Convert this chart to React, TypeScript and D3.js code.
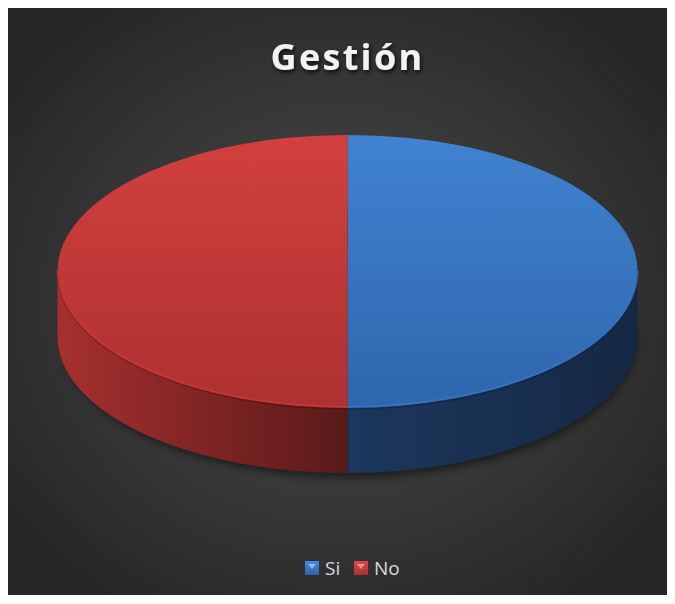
import React from "react";
import * as d3 from "d3";

const categories = ["Si", "No"];
const values = [50, 50];
const topColors = [
  ["#4183d1", "#2f66ad"],
  ["#d2403f", "#ad3130"],
];
const sideColors = [
  ["#1c375d", "#152843"],
  ["#a6302f", "#5a1a1a"],
];
const legendColors = ["#3a78c8", "#c83a3a"];
const title = "Gestión";

const W = 675;
const H = 604;

export default function App() {
  const box = { x: 8, y: 8, w: 659, h: 587 };
  const cx = 347.5;
  const cy = 271;
  const rx = 290;
  const ry = 136;
  const depth = 66;

  const pie = d3.pie<number>().sort(null).startAngle(0).endAngle(2 * Math.PI);
  const arcs = pie(values);

  const px = (a: number) => cx + rx * Math.sin(a);
  const py = (a: number) => cy - ry * Math.cos(a);

  const topPath = (a0: number, a1: number) => {
    const large = a1 - a0 > Math.PI ? 1 : 0;
    return `M${cx},${cy} L${px(a0)},${py(a0)} A${rx},${ry} 0 ${large} 1 ${px(a1)},${py(a1)} Z`;
  };
  const rimPath = (a0: number, a1: number) => {
    const large = a1 - a0 > Math.PI ? 1 : 0;
    return `M${px(a0)},${py(a0)} A${rx},${ry} 0 ${large} 1 ${px(a1)},${py(a1)}`;
  };
  const sidePath = (a0: number, a1: number) => {
    const s = Math.max(a0, Math.PI / 2);
    const e = Math.min(a1, (3 * Math.PI) / 2);
    if (e <= s) return null;
    return `M${px(s)},${py(s)} A${rx},${ry} 0 0 1 ${px(e)},${py(e)} L${px(e)},${py(e) + depth} A${rx},${ry} 0 0 0 ${px(s)},${py(s) + depth} Z`;
  };

  const legendX = [305, 354];

  return (
    <svg width={W} height={H} style={{ display: "block", position: "absolute", left: 0, top: 0 }}>
      <defs>
        <radialGradient id="bg" cx="0.5" cy="0.5" r="0.62">
          <stop offset="0" stopColor="#4d4d4d" />
          <stop offset="1" stopColor="#262626" />
        </radialGradient>
        <filter id="tshadow" x="-20%" y="-40%" width="140%" height="180%">
          <feDropShadow dx="1.5" dy="2.5" stdDeviation="2" floodColor="#000" floodOpacity="0.75" />
        </filter>
        <filter id="pshadow" x="-20%" y="-30%" width="140%" height="160%">
          <feGaussianBlur stdDeviation="5" />
        </filter>
        {arcs.map((a, i) => (
          <linearGradient key={"t" + i} id={"top" + i} x1="0" y1="0" x2="0" y2="1">
            <stop offset="0" stopColor={topColors[i][0]} />
            <stop offset="1" stopColor={topColors[i][1]} />
          </linearGradient>
        ))}
        <linearGradient id="side0" gradientUnits="userSpaceOnUse" x1={cx} y1="0" x2={cx + rx} y2="0">
          <stop offset="0" stopColor={sideColors[0][0]} />
          <stop offset="1" stopColor={sideColors[0][1]} />
        </linearGradient>
        <linearGradient id="side1" gradientUnits="userSpaceOnUse" x1={cx - rx} y1="0" x2={cx} y2="0">
          <stop offset="0" stopColor={sideColors[1][0]} />
          <stop offset="1" stopColor={sideColors[1][1]} />
        </linearGradient>
        {legendColors.map((c, i) => (
          <linearGradient key={"l" + i} id={"leg" + i} x1="0" y1="0" x2="0" y2="1">
            <stop offset="0" stopColor={d3.color(c)!.brighter(0.4).toString()} />
            <stop offset="1" stopColor={d3.color(c)!.darker(0.5).toString()} />
          </linearGradient>
        ))}
      </defs>
      <rect x={box.x} y={box.y} width={box.w} height={box.h} fill="url(#bg)" />
      <text
        x={cx}
        y={69.5}
        textAnchor="middle"
        fontFamily="'Open Sans', 'DejaVu Sans', sans-serif"
        fontWeight="bold"
        fontSize={36}
        letterSpacing={2.3}
        fill="#f2f2f2"
        filter="url(#tshadow)"
      >
        {title}
      </text>
      {/* shadow under pie */}
      <ellipse cx={cx + 2} cy={cy + depth + 4} rx={rx - 4} ry={ry} fill="#000" opacity={0.55} filter="url(#pshadow)" />
      {/* sides */}
      {arcs.map((a, i) => {
        const d = sidePath(a.startAngle, a.endAngle);
        return d ? <path key={"s" + i} d={d} fill={`url(#side${i})`} /> : null;
      })}
      {/* top faces */}
      {arcs.map((a, i) => (
        <path key={"p" + i} d={topPath(a.startAngle, a.endAngle)} fill={`url(#top${i})`} />
      ))}
      {/* rim highlight on front edge */}
      {arcs.map((a, i) => {
        const s = Math.max(a.startAngle, Math.PI / 2);
        const e = Math.min(a.endAngle, (3 * Math.PI) / 2);
        if (e <= s) return null;
        return (
          <path
            key={"r" + i}
            d={rimPath(s, e)}
            fill="none"
            stroke={d3.color(topColors[i][1])!.brighter(0.5).toString()}
            strokeWidth={2}
            opacity={0.8}
          />
        );
      })}
      {arcs.map((a, i) => {
        const s = Math.max(a.startAngle, Math.PI / 2);
        const e = Math.min(a.endAngle, (3 * Math.PI) / 2);
        if (e <= s) return null;
        return (
          <path
            key={"rb" + i}
            d={rimPath(s, e)}
            transform="translate(0,2)"
            fill="none"
            stroke="#000"
            strokeWidth={1.5}
            opacity={0.2}
          />
        );
      })}
      {/* legend */}
      {categories.map((c, i) => (
        <g key={c} transform={`translate(${legendX[i]},561)`}>
          <rect width={14} height={14} fill={`url(#leg${i})`} />
          <path d="M3,3 L11,3 L7,8 Z" fill="#fff" opacity={0.45} />
          <text
            x={20}
            y={13.5}
            fontFamily="'Open Sans', 'DejaVu Sans', sans-serif"
            fontSize={19}
            fill="#d9d9d9"
          >
            {c}
          </text>
        </g>
      ))}
    </svg>
  );
}
